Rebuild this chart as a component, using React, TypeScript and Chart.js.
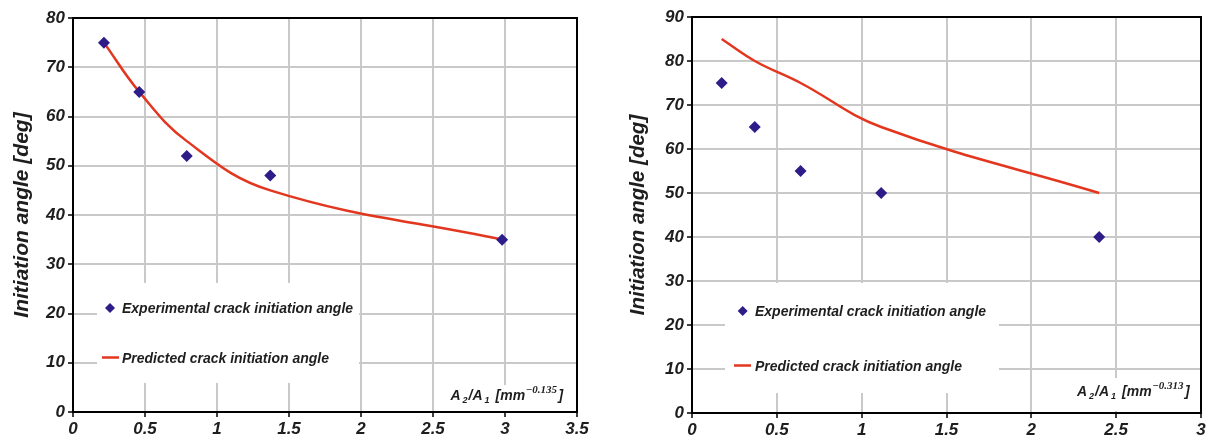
import React, { useEffect, useRef } from 'react';
import { Chart, registerables } from 'chart.js';

Chart.register(...registerables);

// ---------- data (left panel) ----------
const expX1 = [0.215, 0.46, 0.79, 1.37, 2.98];
const expY1 = [75, 65, 52, 48, 35];
const predX1 = [0.215, 0.46, 0.79, 1.37, 2.98];
const predY1 = [75, 65, 55, 45, 35];
const xTicks1 = [0, 0.5, 1, 1.5, 2, 2.5, 3, 3.5];
const yTicks1 = [0, 10, 20, 30, 40, 50, 60, 70, 80];
const xExp1 = '\u22120.135';

// ---------- data (right panel) ----------
const expX2 = [0.175, 0.37, 0.64, 1.115, 2.4];
const expY2 = [75, 65, 55, 50, 40];
const predX2 = [0.175, 0.37, 0.64, 1.115, 2.4];
const predY2 = [85, 80, 75, 65, 50];
const xTicks2 = [0, 0.5, 1, 1.5, 2, 2.5, 3];
const yTicks2 = [0, 10, 20, 30, 40, 50, 60, 70, 80, 90];
const xExp2 = '\u22120.313';

const legendLabels = ['Experimental crack initiation angle', 'Predicted crack initiation angle'];
const yTitleText = 'Initiation angle [deg]';

const EXP_COLOR = '#2e1d88';
const PRED_COLOR = '#e3361f';
const TEXT_COLOR = '#1e1e1e';
const GRID_COLOR = '#c9c9c9';

type Panel = {
  width: number;
  height: number;
  area: { left: number; top: number; right: number; bottom: number };
  yTitleSize: number;
  yTitlePad: number;
  legendBox: { x: number; y: number; w: number; h: number };
  row1: { mx: number; tx: number; base: number };
  row2: { lx1: number; lx2: number; tx: number; base: number };
  xTitle: { x: number; base: number; box: { x: number; y: number; w: number; h: number } };
};

function drawXTitle(ctx: CanvasRenderingContext2D, x: number, base: number, sup: string) {
  const main = 'italic bold 14px "Liberation Sans"';
  const sub = 'italic bold 9px "Liberation Sans"';
  const supF = 'italic bold 11px "Liberation Serif"';
  let cx = x;
  ctx.fillStyle = TEXT_COLOR;
  ctx.textAlign = 'left';
  ctx.textBaseline = 'alphabetic';
  const put = (t: string, font: string, dy: number, gap: number) => {
    ctx.font = font;
    ctx.fillText(t, cx, base + dy);
    cx += ctx.measureText(t).width + gap;
  };
  put('A', main, 0, 2);
  put('2', sub, 3, 1);
  put('/', main, 0, 0);
  put('A', main, 0, 2);
  put('1', sub, 3, 6);
  put('[mm', main, 0, 0.5);
  put(sup, supF, -7, 1.5);
  put(']', main, 0, 0);
}

function makeChart(
  canvas: HTMLCanvasElement,
  p: Panel,
  ex: number[], ey: number[], px: number[], py: number[],
  xt: number[], yt: number[], sup: string
) {
  const overlay = {
    id: 'overlay',
    beforeDatasetsDraw(chart: any) {
      const ctx: CanvasRenderingContext2D = chart.ctx;
      ctx.save();
      ctx.fillStyle = '#ffffff';
      const b = p.legendBox;
      ctx.fillRect(b.x, b.y, b.w, b.h);
      const t = p.xTitle.box;
      ctx.fillRect(t.x, t.y, t.w, t.h);

      // legend row 1: diamond marker
      const r = 5;
      const cy1 = p.row1.base - 5;
      ctx.fillStyle = EXP_COLOR;
      ctx.beginPath();
      ctx.moveTo(p.row1.mx, cy1 - r);
      ctx.lineTo(p.row1.mx + r, cy1);
      ctx.lineTo(p.row1.mx, cy1 + r);
      ctx.lineTo(p.row1.mx - r, cy1);
      ctx.closePath();
      ctx.fill();

      ctx.fillStyle = TEXT_COLOR;
      ctx.font = 'italic bold 14px "Liberation Sans"';
      ctx.textAlign = 'left';
      ctx.textBaseline = 'alphabetic';
      ctx.fillText(legendLabels[0], p.row1.tx, p.row1.base);

      // legend row 2: line marker
      const cy2 = p.row2.base - 5;
      ctx.strokeStyle = PRED_COLOR;
      ctx.lineWidth = 2.5;
      ctx.beginPath();
      ctx.moveTo(p.row2.lx1, cy2);
      ctx.lineTo(p.row2.lx2, cy2);
      ctx.stroke();
      ctx.fillStyle = TEXT_COLOR;
      ctx.fillText(legendLabels[1], p.row2.tx, p.row2.base);

      drawXTitle(ctx, p.xTitle.x, p.xTitle.base, sup);
      ctx.restore();
    },
    afterDraw(chart: any) {
      const ctx: CanvasRenderingContext2D = chart.ctx;
      const a = chart.chartArea;
      ctx.save();
      ctx.strokeStyle = '#000';
      ctx.lineWidth = 2;
      ctx.beginPath();
      ctx.moveTo(a.left, a.top);
      ctx.lineTo(a.right, a.top);
      ctx.lineTo(a.right, a.bottom);
      ctx.stroke();
      ctx.restore();
    },
  };

  const tickFont = { family: '"Liberation Sans"', size: 17, style: 'italic' as const, weight: 'bold' as const };

  return new Chart(canvas, {
    type: 'scatter',
    data: {
      datasets: [
        {
          label: legendLabels[0],
          data: ex.map((x, i) => ({ x, y: ey[i] })),
          showLine: false,
          pointStyle: 'rectRot',
          pointRadius: 6,
          backgroundColor: EXP_COLOR,
          borderColor: EXP_COLOR,
          borderWidth: 0,
          order: 1,
        },
        {
          label: legendLabels[1],
          data: px.map((x, i) => ({ x, y: py[i] })),
          showLine: true,
          pointRadius: 0,
          borderColor: PRED_COLOR,
          backgroundColor: PRED_COLOR,
          borderWidth: 2.5,
          tension: 0.4,
          order: 2,
        },
      ],
    },
    options: {
      responsive: false,
      animation: false,
      devicePixelRatio: 1,
      layout: {
        padding: {
          left: 0,
          top: p.area.top,
          right: p.width - p.area.right,
          bottom: 0,
        },
      },
      plugins: {
        legend: { display: false },
        tooltip: { enabled: false },
      },
      scales: {
        x: {
          type: 'linear',
          min: xt[0],
          max: xt[xt.length - 1],
          afterBuildTicks: (s: any) => { s.ticks = xt.map((v) => ({ value: v })); },
          afterFit: (s: any) => { s.height = p.height - p.area.bottom; },
          ticks: {
            color: TEXT_COLOR,
            font: tickFont,
            padding: 2,
            maxRotation: 0,
            autoSkip: false,
            callback: (v: any) => String(v),
          },
          grid: {
            color: GRID_COLOR,
            lineWidth: 2,
            tickLength: 5,
            tickColor: '#000',
            tickWidth: 1.5,
          },
          border: { color: '#000', width: 2 },
        },
        y: {
          type: 'linear',
          min: yt[0],
          max: yt[yt.length - 1],
          afterBuildTicks: (s: any) => { s.ticks = yt.map((v) => ({ value: v })); },
          afterFit: (s: any) => { s.width = p.area.left; },
          ticks: {
            color: TEXT_COLOR,
            font: tickFont,
            padding: 3,
            autoSkip: false,
            callback: (v: any) => String(v),
          },
          grid: {
            color: GRID_COLOR,
            lineWidth: 2,
            tickLength: 5,
            tickColor: '#000',
            tickWidth: 1.5,
          },
          border: { color: '#000', width: 2 },
          title: {
            display: true,
            text: yTitleText,
            color: TEXT_COLOR,
            font: { family: '"Liberation Sans"', size: p.yTitleSize, style: 'italic', weight: 'bold' },
            padding: { top: p.yTitlePad, bottom: 0 },
          },
        },
      },
    },
    plugins: [overlay],
  } as any);
}

const leftPanel: Panel = {
  width: 606,
  height: 442,
  area: { left: 73, top: 18, right: 577, bottom: 412 },
  yTitleSize: 21,
  yTitlePad: 9.5,
  legendBox: { x: 97, y: 283, w: 262, h: 100 },
  row1: { mx: 110, tx: 122, base: 313 },
  row2: { lx1: 102, lx2: 119, tx: 122, base: 362.5 },
  xTitle: { x: 450.5, base: 399.5, box: { x: 446, y: 385, w: 124, h: 26 } },
};

const rightPanel: Panel = {
  width: 606,
  height: 442,
  area: { left: 86, top: 17, right: 595, bottom: 413 },
  yTitleSize: 20.5,
  yTitlePad: 19.7,
  legendBox: { x: 119, y: 283, w: 274, h: 110 },
  row1: { mx: 136.7, tx: 149, base: 316 },
  row2: { lx1: 128, lx2: 145, tx: 149, base: 370.5 },
  xTitle: { x: 471, base: 395.5, box: { x: 466, y: 378, w: 124, h: 33 } },
};

function PanelChart(props: {
  panel: Panel; left: number;
  ex: number[]; ey: number[]; px: number[]; py: number[];
  xt: number[]; yt: number[]; sup: string;
}) {
  const ref = useRef<HTMLCanvasElement>(null);
  useEffect(() => {
    if (!ref.current) return;
    const chart = makeChart(ref.current, props.panel, props.ex, props.ey, props.px, props.py, props.xt, props.yt, props.sup);
    return () => chart.destroy();
  }, []);
  return (
    <canvas
      ref={ref}
      width={props.panel.width}
      height={props.panel.height}
      style={{
        position: 'absolute',
        left: props.left,
        top: 0,
        width: props.panel.width,
        height: props.panel.height,
        display: 'block',
      }}
    />
  );
}

export default function App() {
  return (
    <div style={{ position: 'fixed', left: 0, top: 0, width: 1212, height: 442, background: '#fff', overflow: 'hidden' }}>
      <PanelChart panel={leftPanel} left={0} ex={expX1} ey={expY1} px={predX1} py={predY1} xt={xTicks1} yt={yTicks1} sup={xExp1} />
      <PanelChart panel={rightPanel} left={606} ex={expX2} ey={expY2} px={predX2} py={predY2} xt={xTicks2} yt={yTicks2} sup={xExp2} />
    </div>
  );
}
